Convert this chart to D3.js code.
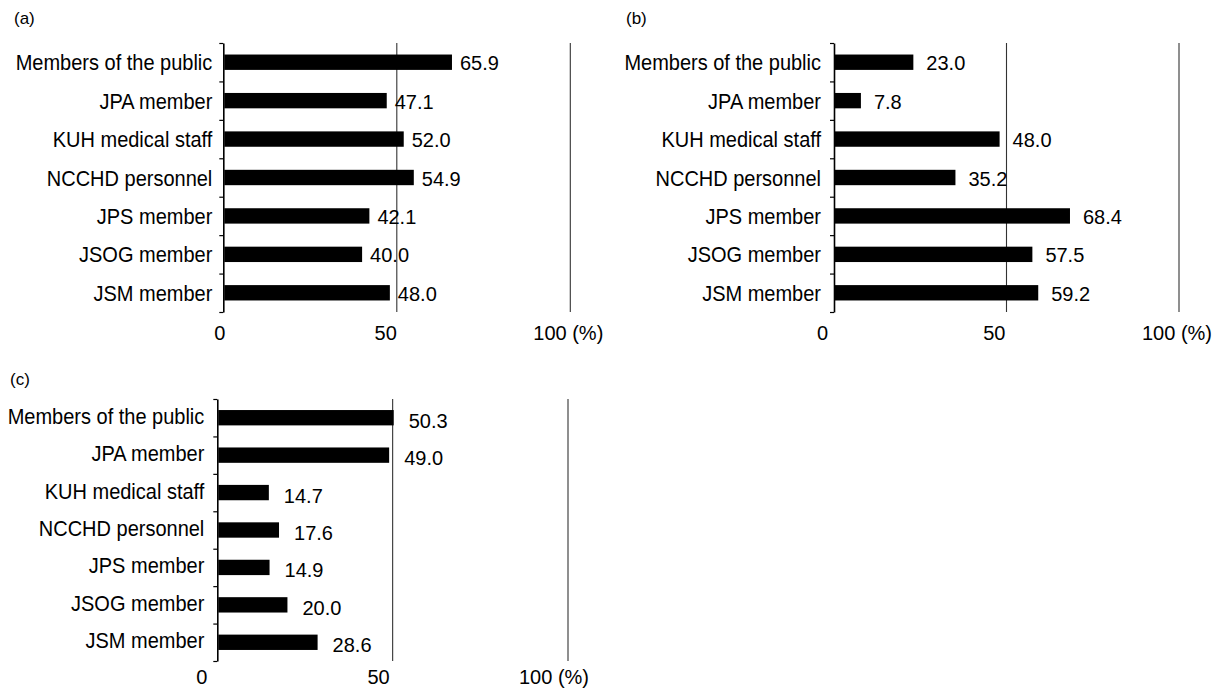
<!DOCTYPE html>
<html>
<head>
<meta charset="utf-8">
<script src="https://cdn.jsdelivr.net/npm/d3@7"></script>
<style>
  html, body { margin: 0; padding: 0; background: #fff; }
  svg { display: block; }
  text { font-family: "Liberation Sans", Arial, Helvetica, sans-serif; fill: #000; }
</style>
</head>
<body>
<svg id="chart" width="1223" height="690"></svg>
<script>
// ---- data ----
const categories = ["Members of the public", "JPA member", "KUH medical staff", "NCCHD personnel", "JPS member", "JSOG member", "JSM member"];
const valuesA = [65.9, 47.1, 52.0, 54.9, 42.1, 40.0, 48.0];
const valuesB = [23.0, 7.8, 48.0, 35.2, 68.4, 57.5, 59.2];
const valuesC = [50.3, 49.0, 14.7, 17.6, 14.9, 20.0, 28.6];
const tickValues = [0, 50, 100];
const tickLabels = ["0", "50", "100 (%)"];
const panelLabels = ["(a)", "(b)", "(c)"];

// ---- layout (positions/styles only) ----
const panels = [
  { values: valuesA, label: panelLabels[0], lx: 14, ly: 24, x0: 223.3, x1: 570.3, y0: 43, y1: 312, pad: 0.6,
    tickY: 340, tickDx: [2, 0, -2], gap: 8, vdy: 0, catDy: 8, catGap: 11 },
  { values: valuesB, label: panelLabels[1], lx: 626, ly: 24, x0: 834, x1: 1179, y0: 43, y1: 312, pad: 0.6,
    tickY: 340, tickDx: [-6, -1, -2], gap: 13, vdy: 0, catDy: 8, catGap: 13 },
  { values: valuesC, label: panelLabels[2], lx: 10, ly: 385, x0: 217.3, x1: 568, y0: 399, y1: 661, pad: 0.59,
    tickY: 684, tickDx: [-10, -3, -14], gap: 15, vdy: 2, catDy: 6, catGap: 13 }
];

const svg = d3.select("#chart");

panels.forEach(p => {
  const g = svg.append("g");
  const x = d3.scaleLinear().domain([0, 100]).range([p.x0, p.x1]);
  const y = d3.scaleBand().domain(categories).range([p.y0, p.y1])
    .paddingInner(p.pad).paddingOuter(p.pad / 2);
  const yTicks = d3.scaleLinear().domain([0, categories.length]).range([p.y0, p.y1]);

  // panel label
  g.append("text").attr("x", p.lx).attr("y", p.ly)
    .style("font-size", "17px").text(p.label);

  // gridlines at 50 and 100
  g.selectAll("line.grid").data(tickValues.filter(v => v > 0)).join("line")
    .attr("class", "grid")
    .attr("x1", d => x(d)).attr("x2", d => x(d))
    .attr("y1", p.y0).attr("y2", p.y1)
    .attr("stroke", "#333").attr("stroke-width", 1.1);

  // bars
  g.selectAll("rect.bar").data(p.values).join("rect")
    .attr("class", "bar")
    .attr("x", x(0) + 1)
    .attr("y", (d, i) => y(categories[i]))
    .attr("width", d => x(d) - x(0) - 1)
    .attr("height", y.bandwidth())
    .attr("fill", "#000");

  // y axis with boundary ticks
  const ax = g.append("g").attr("transform", `translate(${x(0)},0)`)
    .call(d3.axisLeft(yTicks).tickValues(d3.range(categories.length + 1))
      .tickSize(4).tickSizeOuter(0).tickFormat(""));
  ax.select(".domain").attr("stroke", "#000").attr("stroke-width", 1.6);
  ax.selectAll(".tick line").attr("stroke", "#000").attr("stroke-width", 1.2);

  // category labels (slightly tall, as in the scanned original)
  g.selectAll("text.cat").data(categories).join("text")
    .attr("class", "cat")
    .attr("transform", d => `translate(${x(0) - p.catGap},${y(d) + y.bandwidth() / 2 + p.catDy}) scale(1,1.08)`)
    .attr("text-anchor", "end")
    .style("font-size", "20px")
    .text(d => d);

  // value labels
  g.selectAll("text.val").data(p.values).join("text")
    .attr("class", "val")
    .attr("x", d => x(d) + p.gap)
    .attr("y", (d, i) => y(categories[i]) + y.bandwidth() / 2 + 8 + p.vdy)
    .style("font-size", "20px")
    .text(d => d.toFixed(1));

  // x tick labels
  g.selectAll("text.xt").data(tickValues).join("text")
    .attr("class", "xt")
    .attr("x", (d, i) => x(d) + p.tickDx[i])
    .attr("y", p.tickY)
    .attr("text-anchor", (d, i) => i === tickValues.length - 1 ? "middle" : "end")
    .style("font-size", "20px")
    .text((d, i) => tickLabels[i]);
});
</script>
</body>
</html>
